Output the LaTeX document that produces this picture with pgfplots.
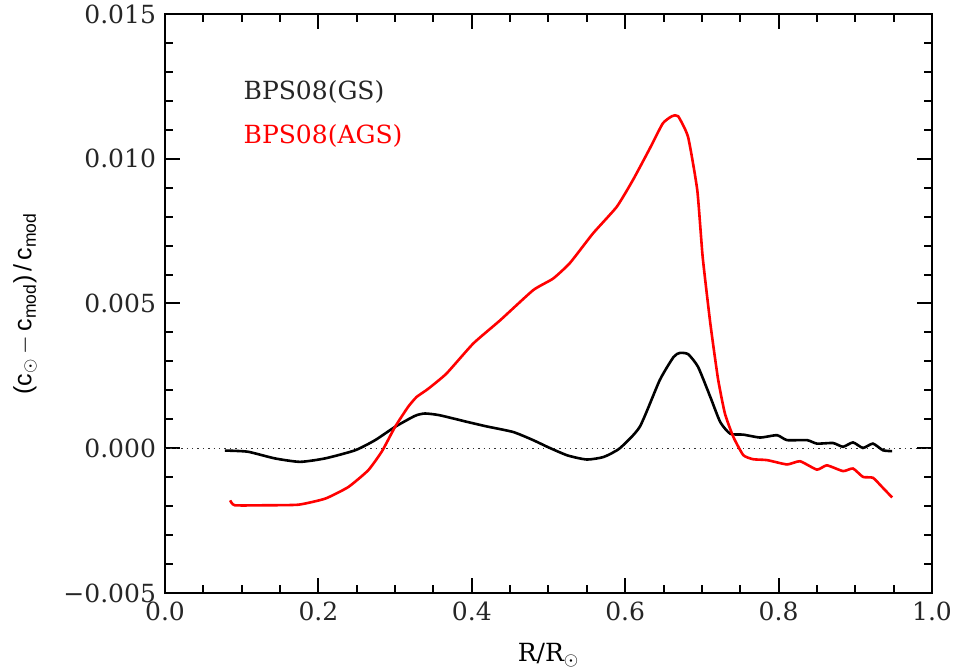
\documentclass[border=0pt]{standalone}
\usepackage{fontspec}
\setmainfont{DejaVu Serif}
\setsansfont{Liberation Sans}
\usepackage{pgfplots}
\pgfplotsset{compat=1.18}
\usetikzlibrary{calc}
\begin{document}
\begin{tikzpicture}
\begin{axis}[
  name=ax,
  scale only axis,
  width=383.5pt, height=289.5pt,
  xmin=0, xmax=1, ymin=-0.005, ymax=0.015,
  axis line style={line width=1pt},
  every tick/.style={black, line width=1pt},
  tick pos=both, tick align=inside,
  major tick length=7.5pt, minor tick length=4pt,
  xtick={0,0.2,0.4,0.6,0.8,1.0},
  xticklabels={0.0,0.2,0.4,0.6,0.8,1.0},
  minor xtick={0.05,0.1,0.15,0.25,0.3,0.35,0.45,0.5,0.55,0.65,0.7,0.75,0.85,0.9,0.95},
  ytick={-0.005,0,0.005,0.010,0.015},
  yticklabels={−0.005,0.000,0.005,0.010,0.015},
  minor ytick={-0.004,-0.003,-0.002,-0.001,0.001,0.002,0.003,0.004,0.006,0.007,0.008,0.009,0.011,0.012,0.013,0.014},
  scaled y ticks=false,
  ticklabel style={font=\fontsize{12.5}{14}\selectfont, text=black!85},
  xticklabel style={yshift=-1pt},
  yticklabel style={xshift=-1pt},
  xlabel={R/R$_\odot$},
  xlabel style={at={(axis description cs:0.5,-0.108)}, anchor=center, font=\fontsize{12.5}{14}\selectfont},
  ylabel={\sffamily (c\textsubscript{$\odot$}\,$-$\,c\textsubscript{mod})\,/\,c\textsubscript{mod}},
  ylabel style={at={(axis description cs:-0.1825,0.5)}, anchor=center, font=\fontsize{12.5}{14}\selectfont},
  clip=true,
]
\addplot[black!80, line width=0.7pt, dotted, forget plot] coordinates {(0,0) (1,0)};
% BPS08(GS)
\addplot[black, line width=1.3pt, smooth, tension=0.35] coordinates {
(0.078,-0.00008) (0.108,-0.00012) (0.143,-0.00035) (0.176,-0.00047)
(0.209,-0.00035) (0.248,-0.00007) (0.274,0.00028) (0.300,0.00074)
(0.326,0.00112) (0.339,0.00120) (0.358,0.00114) (0.394,0.00091)
(0.420,0.00075) (0.454,0.00056) (0.480,0.00028) (0.500,0.00003)
(0.525,-0.00025) (0.550,-0.00039) (0.572,-0.00030) (0.593,0.00000)
(0.619,0.00074) (0.645,0.00235) (0.663,0.00315) (0.671,0.00329)
(0.682,0.00325) (0.695,0.00281) (0.711,0.00177) (0.724,0.00090)
(0.737,0.00050) (0.754,0.00047) (0.776,0.00037) (0.798,0.00045)
(0.811,0.00028) (0.837,0.00028) (0.850,0.00016) (0.871,0.00018)
(0.884,0.00005) (0.897,0.00020) (0.910,0.00001) (0.923,0.00016)
(0.936,-0.00007) (0.948,-0.00010)
};
% BPS08(AGS)
\addplot[red, line width=1.3pt, smooth, tension=0.3] coordinates {
(0.085,-0.00180) (0.091,-0.00197) (0.130,-0.00197) (0.174,-0.00195)
(0.209,-0.00174) (0.239,-0.00134) (0.265,-0.00076) (0.283,-0.00010)
(0.300,0.00074) (0.317,0.00143) (0.328,0.00177) (0.343,0.00205)
(0.367,0.00258) (0.402,0.00362) (0.437,0.00442) (0.480,0.00546)
(0.506,0.00586) (0.528,0.00640) (0.558,0.00742) (0.589,0.00834)
(0.610,0.00926) (0.632,0.01035) (0.649,0.01122) (0.661,0.01147)
(0.669,0.01147) (0.682,0.01075) (0.694,0.00891) (0.701,0.00661)
(0.711,0.00431) (0.721,0.00240) (0.730,0.00120) (0.741,0.00039)
(0.754,-0.00024) (0.767,-0.00038) (0.785,-0.00041) (0.811,-0.00056)
(0.828,-0.00045) (0.850,-0.00074) (0.863,-0.00059) (0.884,-0.00079)
(0.897,-0.00070) (0.910,-0.00099) (0.923,-0.00102) (0.935,-0.00134)
(0.948,-0.00170)
};
\node[anchor=west, text=black!85, font=\fontsize{12.5}{14}\selectfont, inner sep=0pt] at (axis cs:0.102,0.0123) {BPS08(GS)};
\node[anchor=west, text=red, font=\fontsize{12.5}{14}\selectfont, inner sep=0pt] at (axis cs:0.102,0.0108) {BPS08(AGS)};
\end{axis}
\pgfresetboundingbox
\path[use as bounding box] ($(ax.south west)+(-82.5pt,-39.5pt)$) rectangle ($(ax.north east)+(11.5pt,7pt)$);
\end{tikzpicture}
\end{document}
